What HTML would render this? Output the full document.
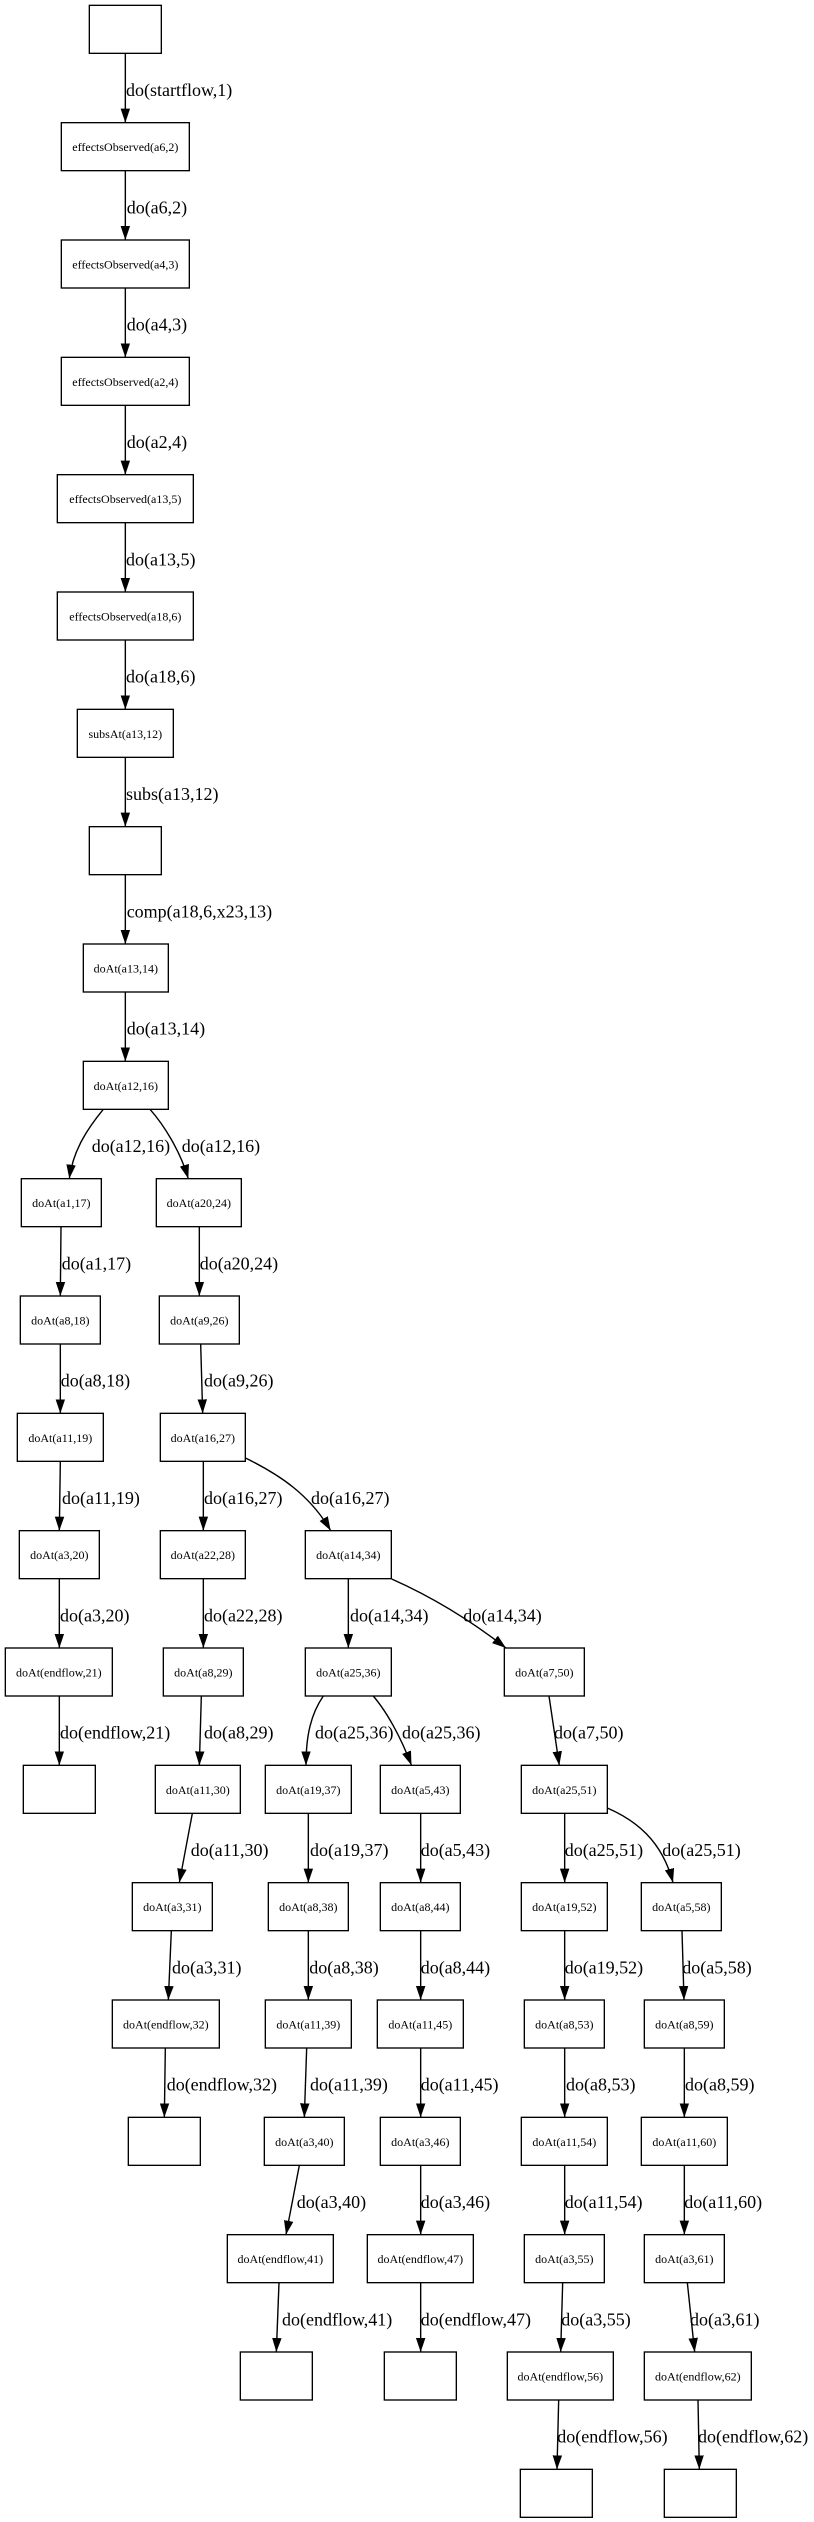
<!DOCTYPE html>
<html><head><meta charset="utf-8"><style>
html,body{margin:0;padding:0;background:#fff;}
svg{display:block;}
.n rect{fill:#fff;stroke:#000;stroke-width:1.35;}
.n text{font-family:"Liberation Serif","Times New Roman",serif;font-size:12px;text-anchor:middle;fill:#000;}
.e path,.e line{fill:none;stroke:#000;stroke-width:1.4;marker-end:url(#ah);}
.l text{font-family:"Liberation Serif","Times New Roman",serif;font-size:18px;fill:#000;}
</style></head><body>
<svg width="814" height="2522" viewBox="0 0 814 2522" xmlns="http://www.w3.org/2000/svg">
<defs><marker id="ah" markerUnits="userSpaceOnUse" markerWidth="14" markerHeight="10" refX="13.3" refY="4.5" orient="auto" viewBox="0 0 13.3 9"><path d="M0,0 L13.3,4.5 L0,9z" fill="#000"/></marker></defs>
<rect width="814" height="2522" fill="#fff"/>
<g class="e">
<line x1="125.33" y1="53.33" x2="125.33" y2="122.67"/>
<line x1="125.33" y1="170.67" x2="125.33" y2="240"/>
<line x1="125.33" y1="288" x2="125.33" y2="357.33"/>
<line x1="125.33" y1="405.33" x2="125.33" y2="474.67"/>
<line x1="125.33" y1="522.67" x2="125.33" y2="592"/>
<line x1="125.33" y1="640" x2="125.33" y2="709.33"/>
<line x1="125.33" y1="757.33" x2="125.33" y2="826.67"/>
<line x1="125.33" y1="874.67" x2="125.33" y2="944"/>
<line x1="125.33" y1="992" x2="125.33" y2="1061.33"/>
<path d="M103.3,1109.33 C88,1128 73,1150 69.3,1178.67"/>
<path d="M150,1109.33 C163,1124 180,1150 188.3,1178.67"/>
<line x1="61" y1="1226.67" x2="60.33" y2="1296"/>
<line x1="60.33" y1="1344" x2="60.33" y2="1413.33"/>
<line x1="60.33" y1="1461.33" x2="59.33" y2="1530.67"/>
<line x1="59.33" y1="1578.67" x2="59.33" y2="1648"/>
<line x1="59.33" y1="1696" x2="59.33" y2="1765.33"/>
<line x1="199.33" y1="1226.67" x2="199.33" y2="1296"/>
<line x1="200.67" y1="1344" x2="202.67" y2="1413.33"/>
<line x1="203.33" y1="1461.33" x2="203.33" y2="1530.67"/>
<line x1="203.33" y1="1578.67" x2="203.33" y2="1648"/>
<line x1="201.33" y1="1696" x2="199.33" y2="1765.33"/>
<line x1="192.33" y1="1813.33" x2="179.33" y2="1882.67"/>
<line x1="171.33" y1="1930.67" x2="168.33" y2="2000"/>
<line x1="165.33" y1="2048" x2="164.33" y2="2117.33"/>
<path d="M246,1458.3 C280,1475 310,1495 330.7,1530.67"/>
<line x1="348.33" y1="1578.67" x2="348.33" y2="1648"/>
<path d="M391.7,1579 C430,1596 470,1620 506,1648"/>
<path d="M323.3,1696 C311,1714 306,1735 306,1765.33"/>
<path d="M373.3,1696 C386,1711 400,1735 411.5,1765.33"/>
<line x1="549" y1="1696" x2="559.3" y2="1765.33"/>
<line x1="308.33" y1="1813.33" x2="308.33" y2="1882.67"/>
<line x1="308.33" y1="1930.67" x2="308.33" y2="2000"/>
<line x1="306.67" y1="2048" x2="304.33" y2="2117.33"/>
<line x1="299.33" y1="2165.33" x2="286" y2="2234.67"/>
<line x1="279" y1="2282.67" x2="276.33" y2="2352"/>
<line x1="420.67" y1="1813.33" x2="420.67" y2="1882.67"/>
<line x1="420.67" y1="1930.67" x2="420.67" y2="2000"/>
<line x1="420.67" y1="2048" x2="420.67" y2="2117.33"/>
<line x1="420.67" y1="2165.33" x2="420.67" y2="2234.67"/>
<line x1="420.67" y1="2282.67" x2="420.67" y2="2352"/>
<line x1="564.67" y1="1813.33" x2="564.67" y2="1882.67"/>
<path d="M607.3,1808 C635,1820 662,1840 673,1882.67"/>
<line x1="564.67" y1="1930.67" x2="564.67" y2="2000"/>
<line x1="564.67" y1="2048" x2="564.67" y2="2117.33"/>
<line x1="564.67" y1="2165.33" x2="564.67" y2="2234.67"/>
<line x1="562.67" y1="2282.67" x2="560.67" y2="2352"/>
<line x1="558.67" y1="2400" x2="557" y2="2469.33"/>
<line x1="682" y1="1930.67" x2="684" y2="2000"/>
<line x1="684.33" y1="2048" x2="684.33" y2="2117.33"/>
<line x1="684.33" y1="2165.33" x2="684.33" y2="2234.67"/>
<line x1="687.33" y1="2282.67" x2="694.67" y2="2352"/>
<line x1="698" y1="2400" x2="699.33" y2="2469.33"/>
</g>
<g class="n">
<rect x="89.33" y="5.33" width="72" height="48"/>
<rect x="61.33" y="122.67" width="128" height="48"/><text x="125.33" y="151.2">effectsObserved(a6,2)</text>
<rect x="61.33" y="240" width="128" height="48"/><text x="125.33" y="268.5">effectsObserved(a4,3)</text>
<rect x="61.33" y="357.33" width="128" height="48"/><text x="125.33" y="385.8">effectsObserved(a2,4)</text>
<rect x="57.33" y="474.67" width="136" height="48"/><text x="125.33" y="503.2">effectsObserved(a13,5)</text>
<rect x="57.33" y="592" width="136" height="48"/><text x="125.33" y="620.5">effectsObserved(a18,6)</text>
<rect x="77.33" y="709.33" width="96" height="48"/><text x="125.33" y="737.8">subsAt(a13,12)</text>
<rect x="89.33" y="826.67" width="72" height="48"/>
<rect x="83.33" y="944" width="85" height="48"/><text x="125.83" y="972.5">doAt(a13,14)</text>
<rect x="83.33" y="1061.33" width="85" height="48"/><text x="125.83" y="1089.8">doAt(a12,16)</text>
<rect x="21.33" y="1178.67" width="80" height="48"/><text x="61.33" y="1207.2">doAt(a1,17)</text>
<rect x="156.33" y="1178.67" width="85" height="48"/><text x="198.83" y="1207.2">doAt(a20,24)</text>
<rect x="20.33" y="1296" width="80" height="48"/><text x="60.33" y="1324.5">doAt(a8,18)</text>
<rect x="159.33" y="1296" width="80" height="48"/><text x="199.33" y="1324.5">doAt(a9,26)</text>
<rect x="17.33" y="1413.33" width="86" height="48"/><text x="60.33" y="1441.8">doAt(a11,19)</text>
<rect x="160.33" y="1413.33" width="85" height="48"/><text x="202.83" y="1441.8">doAt(a16,27)</text>
<rect x="19.33" y="1530.67" width="80" height="48"/><text x="59.33" y="1559.2">doAt(a3,20)</text>
<rect x="160.33" y="1530.67" width="85" height="48"/><text x="202.83" y="1559.2">doAt(a22,28)</text>
<rect x="305.33" y="1530.67" width="86" height="48"/><text x="348.33" y="1559.2">doAt(a14,34)</text>
<rect x="5.33" y="1648" width="107" height="48"/><text x="58.83" y="1676.5">doAt(endflow,21)</text>
<rect x="163.33" y="1648" width="80" height="48"/><text x="203.33" y="1676.5">doAt(a8,29)</text>
<rect x="305.33" y="1648" width="86" height="48"/><text x="348.33" y="1676.5">doAt(a25,36)</text>
<rect x="504.33" y="1648" width="80" height="48"/><text x="544.33" y="1676.5">doAt(a7,50)</text>
<rect x="23.33" y="1765.33" width="72" height="48"/>
<rect x="155.33" y="1765.33" width="85" height="48"/><text x="197.83" y="1793.8">doAt(a11,30)</text>
<rect x="265.33" y="1765.33" width="86" height="48"/><text x="308.33" y="1793.8">doAt(a19,37)</text>
<rect x="380.33" y="1765.33" width="80" height="48"/><text x="420.33" y="1793.8">doAt(a5,43)</text>
<rect x="521.33" y="1765.33" width="86" height="48"/><text x="564.33" y="1793.8">doAt(a25,51)</text>
<rect x="132.33" y="1882.67" width="80" height="48"/><text x="172.33" y="1911.2">doAt(a3,31)</text>
<rect x="268.33" y="1882.67" width="80" height="48"/><text x="308.33" y="1911.2">doAt(a8,38)</text>
<rect x="380.33" y="1882.67" width="80" height="48"/><text x="420.33" y="1911.2">doAt(a8,44)</text>
<rect x="521.33" y="1882.67" width="86" height="48"/><text x="564.33" y="1911.2">doAt(a19,52)</text>
<rect x="641.33" y="1882.67" width="80" height="48"/><text x="681.33" y="1911.2">doAt(a5,58)</text>
<rect x="112.33" y="2000" width="107" height="48"/><text x="165.83" y="2028.5">doAt(endflow,32)</text>
<rect x="265.33" y="2000" width="86" height="48"/><text x="308.33" y="2028.5">doAt(a11,39)</text>
<rect x="377.33" y="2000" width="86" height="48"/><text x="420.33" y="2028.5">doAt(a11,45)</text>
<rect x="524.33" y="2000" width="80" height="48"/><text x="564.33" y="2028.5">doAt(a8,53)</text>
<rect x="644.33" y="2000" width="80" height="48"/><text x="684.33" y="2028.5">doAt(a8,59)</text>
<rect x="128.33" y="2117.33" width="72" height="48"/>
<rect x="264.33" y="2117.33" width="80" height="48"/><text x="304.33" y="2145.8">doAt(a3,40)</text>
<rect x="380.33" y="2117.33" width="80" height="48"/><text x="420.33" y="2145.8">doAt(a3,46)</text>
<rect x="521.33" y="2117.33" width="86" height="48"/><text x="564.33" y="2145.8">doAt(a11,54)</text>
<rect x="641.33" y="2117.33" width="86" height="48"/><text x="684.33" y="2145.8">doAt(a11,60)</text>
<rect x="227.33" y="2234.67" width="106" height="48"/><text x="280.33" y="2263.2">doAt(endflow,41)</text>
<rect x="367.33" y="2234.67" width="106" height="48"/><text x="420.33" y="2263.2">doAt(endflow,47)</text>
<rect x="524.33" y="2234.67" width="80" height="48"/><text x="564.33" y="2263.2">doAt(a3,55)</text>
<rect x="644.33" y="2234.67" width="80" height="48"/><text x="684.33" y="2263.2">doAt(a3,61)</text>
<rect x="240.33" y="2352" width="72" height="48"/>
<rect x="384.33" y="2352" width="72" height="48"/>
<rect x="507.33" y="2352" width="106" height="48"/><text x="560.33" y="2380.5">doAt(endflow,56)</text>
<rect x="644.33" y="2352" width="107" height="48"/><text x="697.83" y="2380.5">doAt(endflow,62)</text>
<rect x="520.33" y="2469.33" width="72" height="48"/>
<rect x="664.33" y="2469.33" width="72" height="48"/>
</g>
<g class="l">
<text x="126" y="96">do(startflow,1)</text>
<text x="126.7" y="213.3">do(a6,2)</text>
<text x="126.7" y="330.7">do(a4,3)</text>
<text x="126.7" y="448">do(a2,4)</text>
<text x="126" y="565.3">do(a13,5)</text>
<text x="126" y="682.7">do(a18,6)</text>
<text x="126" y="800">subs(a13,12)</text>
<text x="126.7" y="917.3">comp(a18,6,x23,13)</text>
<text x="126.7" y="1034.7">do(a13,14)</text>
<text x="91.7" y="1152">do(a12,16)</text>
<text x="181.7" y="1152">do(a12,16)</text>
<text x="61.7" y="1269.3">do(a1,17)</text>
<text x="199.7" y="1269.3">do(a20,24)</text>
<text x="60.7" y="1386.7">do(a8,18)</text>
<text x="204" y="1386.7">do(a9,26)</text>
<text x="62" y="1504">do(a11,19)</text>
<text x="204" y="1504">do(a16,27)</text>
<text x="311" y="1504">do(a16,27)</text>
<text x="60" y="1621.3">do(a3,20)</text>
<text x="204" y="1621.3">do(a22,28)</text>
<text x="350" y="1621.3">do(a14,34)</text>
<text x="463.3" y="1621.3">do(a14,34)</text>
<text x="60" y="1738.7">do(endflow,21)</text>
<text x="204" y="1738.7">do(a8,29)</text>
<text x="315" y="1738.7">do(a25,36)</text>
<text x="402" y="1738.7">do(a25,36)</text>
<text x="554" y="1738.7">do(a7,50)</text>
<text x="190.7" y="1856">do(a11,30)</text>
<text x="310" y="1856">do(a19,37)</text>
<text x="420.7" y="1856">do(a5,43)</text>
<text x="564.7" y="1856">do(a25,51)</text>
<text x="662.3" y="1856">do(a25,51)</text>
<text x="172" y="1973.3">do(a3,31)</text>
<text x="309.3" y="1973.3">do(a8,38)</text>
<text x="420.7" y="1973.3">do(a8,44)</text>
<text x="564.7" y="1973.3">do(a19,52)</text>
<text x="682.3" y="1973.3">do(a5,58)</text>
<text x="166.7" y="2090.7">do(endflow,32)</text>
<text x="310" y="2090.7">do(a11,39)</text>
<text x="420.7" y="2090.7">do(a11,45)</text>
<text x="566" y="2090.7">do(a8,53)</text>
<text x="685" y="2090.7">do(a8,59)</text>
<text x="296.7" y="2208">do(a3,40)</text>
<text x="420.7" y="2208">do(a3,46)</text>
<text x="564.7" y="2208">do(a11,54)</text>
<text x="684.3" y="2208">do(a11,60)</text>
<text x="282" y="2325.3">do(endflow,41)</text>
<text x="420.7" y="2325.3">do(endflow,47)</text>
<text x="561.3" y="2325.3">do(a3,55)</text>
<text x="690" y="2325.3">do(a3,61)</text>
<text x="557.3" y="2442.7">do(endflow,56)</text>
<text x="698" y="2442.7">do(endflow,62)</text>
</g>
</svg>
</body></html>
